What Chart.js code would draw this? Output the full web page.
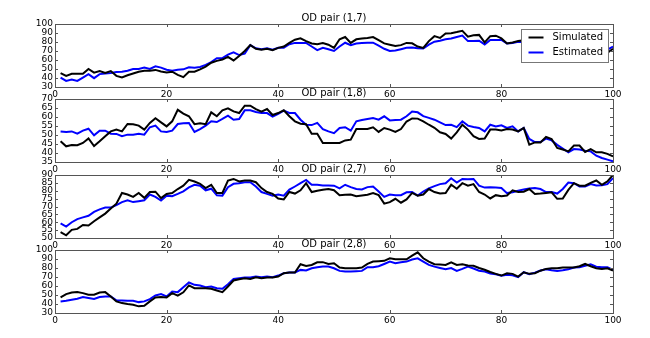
<!DOCTYPE html>
<html>
<head>
<meta charset="utf-8">
<script src="https://cdn.jsdelivr.net/npm/chart.js@4.4.1/dist/chart.umd.min.js"></script>
<style>
    html, body { margin: 0; padding: 0; background: #fff; }
    #wrap { position: relative; width: 650px; height: 338px; }
    #wrap canvas { position: absolute; left: 0; }
</style>
</head>
<body>
<div id="wrap">
    <canvas id="c17" width="650" height="91" style="top:10px"></canvas>
    <canvas id="c18" width="650" height="91" style="top:85px"></canvas>
    <canvas id="c27" width="650" height="91" style="top:161px"></canvas>
    <canvas id="c28" width="650" height="91" style="top:236px"></canvas>
</div>
<script>
// Time steps on the x axis
const steps = Array.from({ length: 100 }, (_, i) => i + 1);
const xTicks = [0, 20, 40, 60, 80, 100];

// OD pair (1,7)
const sim17 = [45.5, 42.4, 44.7, 44.7, 44.7, 50, 46, 47.7, 45.5, 47.7,
    42.4, 40.5, 43, 45, 47, 48, 48, 49, 47.3, 46,
    47, 43.5, 41, 47, 47, 49.6, 52.6, 57, 59, 60.5,
    63.5, 59.5, 64.5, 70, 76.5, 72.5, 71.5, 72.5, 71, 73.5,
    75, 79, 82.5, 84, 81, 78.4, 77.5, 78.8, 77, 73.5,
    83, 85.5, 79, 83, 84, 84.5, 85.5, 82, 78.5, 77,
    75.5, 76.5, 79, 78.5, 75, 73.5, 81, 86.5, 84.5, 89.5,
    89.8, 91, 92.4, 86, 87.5, 87.9, 79.5, 86.5, 87, 84,
    78.4, 79.5, 81, 82, 80, 79, 80, 81, 79, 78,
    77, 76, 75, 74, 74, 72, 70, 68, 68, 72.5];
const est17 = [40.5, 36.7, 38.3, 36.7, 40.5, 44.3, 39.8, 44.3, 45, 45.5,
    46.6, 47, 48, 50, 50, 51.5, 50, 53, 51.5, 49.2,
    48, 49.2, 49.6, 52, 51.5, 52.3, 54.5, 57.6, 62, 62,
    66, 68.5, 65.5, 67, 76.5, 73, 72, 73, 71.5, 73.5,
    73.5, 77.5, 79, 79, 79, 75, 71, 73.5, 72, 70,
    75, 79.2, 76.5, 78.4, 79, 79.2, 79.2, 76, 72.5, 70,
    70.5, 72, 73.5, 73.9, 73, 72.7, 77, 80.3, 81.5, 83,
    84, 85.5, 87.1, 81, 81.2, 81.4, 77.3, 82.3, 82.3, 82.3,
    78.4, 79, 80.3, 80, 79, 78, 78, 79, 78, 77,
    76, 75, 74, 73, 72, 71, 70, 69, 71.5, 75];

// OD pair (1,8)
const sim18 = [46.5, 43.7, 44.4, 44.3, 45.6, 48.1, 43.9, 46.5, 49.3, 52,
    53, 52, 56.1, 56, 55.2, 53, 56.7, 59.3, 57, 54.8,
    57.6, 64, 61.9, 60.4, 56, 56.5, 56, 62.6, 60.4, 63.7,
    64.8, 63.1, 62.2, 66.3, 66.3, 64.4, 63, 64.4, 61.1, 62.2,
    63.7, 60.4, 57.6, 56.3, 56, 50.7, 50.7, 45.6, 45.6, 45.6,
    45.6, 47, 47.4, 53.3, 53.3, 53.3, 54.3, 51.7, 53.9, 53,
    51.7, 53.3, 57.5, 59.2, 59.1, 57.6, 55.7, 54, 51.5, 50.6,
    48, 51.5, 55.7, 53, 49.3, 47.8, 48, 53, 53, 52.5,
    53.3, 53, 52, 53.9, 44.6, 45.9, 45.9, 48.9, 47.8, 42.8,
    41.9, 40.9, 44.1, 44.1, 40.6, 42.2, 40.4, 40.4, 39.5, 38.1];
const est18 = [52, 51.7, 52, 50.7, 52.4, 53.5, 49.8, 52.4, 52.4, 50.7,
    50.6, 49.3, 50.2, 50.2, 50.7, 50.2, 54.3, 55.2, 52, 51.7,
    52.4, 56.1, 56.5, 56.7, 51.7, 53.3, 55.2, 57.6, 57.2, 58.9,
    60.7, 58.5, 58.9, 63.7, 63.7, 62.8, 62.2, 62.2, 60.2, 61.7,
    63.5, 62.2, 62.2, 58.5, 55.7, 55.5, 56.7, 53.3, 52, 51,
    53.9, 54.3, 52.4, 57.6, 58.3, 58.9, 59.4, 58.5, 60.4, 58.1,
    58.3, 58.5, 60.4, 63, 62.6, 60.5, 59.5, 58.5, 57, 55.5,
    55.7, 54.4, 57.6, 55.2, 54.5, 53.9, 52, 55.7, 54.8, 55.4,
    53.9, 54.8, 52, 53.9, 47.8, 46.1, 46.1, 48, 47, 44.5,
    42.5, 40.4, 42.2, 42, 41.3, 40.9, 38.5, 37.2, 36.3, 35.4];

// OD pair (2,7)
const sim27 = [53.7, 51.7, 55.2, 55.8, 58.3, 57.9, 60.6, 63.1, 65.5, 68.7,
    71.8, 78.6, 77.6, 76.1, 78.6, 75.5, 79.2, 79.4, 75.3, 78,
    78.6, 81.1, 83.2, 86.9, 85.9, 84.4, 81.7, 83.8, 78.6, 78.6,
    86.5, 87.5, 85.9, 86.5, 86.5, 85.4, 81.7, 79.2, 78, 75.1,
    74.5, 79.2, 78.2, 80.3, 84.8, 79.2, 80, 80.7, 81.1, 80.3,
    77.2, 77.4, 77.6, 76.5, 77, 77.5, 78.6, 77.2, 71.8, 72.8,
    74.9, 72.4, 74.5, 78.6, 76.9, 77.6, 81.1, 79.2, 78.2, 78.6,
    83.8, 81.3, 84.8, 83.2, 84.2, 79.2, 77.6, 75.1, 77.2, 76.5,
    77, 80.3, 79.2, 79.4, 81.1, 78, 78.2, 78.6, 79, 74.9,
    75, 80.5, 84.8, 83.2, 83.2, 85, 86.5, 83.8, 85.9, 90];
const est27 = [59.3, 57.3, 60, 62, 63.1, 64.1, 66.6, 68.2, 69.3, 69.3,
    70.9, 72.8, 74, 72.8, 73.4, 74, 77.6, 76.1, 73.8, 76.9,
    76.5, 78, 79.6, 82.1, 83.8, 83.2, 80.3, 81.3, 77.1, 76.9,
    82.3, 84.4, 84.8, 85.4, 85.4, 82.7, 79.2, 78, 76.9, 77.6,
    76.9, 80.7, 82.7, 84.8, 86.9, 83.8, 83.8, 83.4, 83.4, 83.2,
    81.5, 83.8, 82.3, 81.1, 80.8, 82.3, 82.7, 79.5, 76.1, 77.6,
    77.2, 77.2, 79, 79.2, 76.9, 79.5, 81.5, 82.9, 84.2, 84.8,
    87.9, 85.2, 87.5, 87.3, 87.5, 83.2, 82, 82.2, 82, 81.8,
    78.5, 79, 80, 80.8, 81.5, 81.8, 81.1, 79.2, 79.2, 78.2,
    81.1, 85.2, 84.8, 82.7, 82.7, 84.2, 83.4, 83.5, 84.2, 88];

// OD pair (2,8)
const sim28 = [47.3, 51, 52.8, 53.2, 52.1, 50.3, 50.3, 52.8, 53.2, 48.4,
    42.9, 41, 39.9, 39.2, 37.4, 38.1, 42.9, 47.3, 47.7, 47.3,
    52.1, 49.2, 53, 60.6, 57.6, 57.6, 57.6, 56.9, 55, 53.2,
    59.5, 66.1, 67.6, 68.7, 67.9, 69.8, 68.7, 69.5, 69.5, 70.5,
    74.2, 75, 75, 84.2, 82.3, 83.4, 86.4, 86.5, 84.5, 85.3,
    80.5, 79.7, 79.7, 79.7, 80.5, 84.5, 87.1, 87.5, 88, 90.8,
    89.7, 89.7, 89.7, 93.7, 97.4, 90.8, 87.1, 84.2, 83.8, 83.4,
    86.4, 83.4, 84.2, 82.7, 82.5, 80, 78, 75.5, 73.5, 71.6,
    74.2, 73.5, 70.5, 75.3, 73.5, 74.2, 77, 79, 79.7, 79.7,
    80.5, 80.5, 80.5, 82, 84.5, 82, 79.7, 79, 79.7, 77.2];
const est28 = [42.9, 43.6, 44.7, 45.8, 47.7, 46.6, 45.5, 47.7, 48.4, 48.4,
    44, 44, 43.6, 43.6, 42.1, 42.9, 45.5, 49.5, 51, 48.4,
    53.9, 53.2, 58.7, 63.9, 61.3, 60.6, 58.7, 59.5, 57.6, 56.9,
    62, 67.9, 68.7, 69.4, 69.4, 70.5, 69.8, 70.5, 69.8, 71.6,
    74.2, 75, 75, 77.9, 77.2, 79.7, 80.8, 81.6, 81.6, 79.7,
    76.8, 76, 76, 76.4, 76.8, 80.8, 80.8, 82, 84.5, 87.1,
    85.3, 86.4, 87.1, 89.5, 90.8, 87.1, 83.5, 81.5, 80, 78.6,
    80, 76.8, 79, 81.5, 79.5, 77, 76, 74, 73, 71.5,
    72.4, 72, 69.8, 75.3, 73.1, 74.9, 77.2, 78.7, 77.5, 76.8,
    77.5, 78.5, 80.5, 80.8, 82.5, 84.2, 81.5, 80.8, 80.8, 77.9];

// Panel titles and y axis ranges [min, max, step]
const titles = ['OD pair (1,7)', 'OD pair (1,8)', 'OD pair (2,7)', 'OD pair (2,8)'];
const yRanges = [[30, 100, 10], [35, 70, 5], [50, 90, 5], [30, 100, 10]];
const seriesNames = ['Simulated', 'Estimated'];

Chart.defaults.font.family = 'DejaVu Sans';
Chart.defaults.color = '#000';

const FRAME = '#555';

// Box around the plot and small inward ticks, like matplotlib
const framePlugin = {
    id: 'frame',
    afterDatasetsDraw(chart) {
        const { ctx, chartArea: a, scales } = chart;
        ctx.save();
        ctx.strokeStyle = FRAME;
        ctx.lineWidth = 1;
        ctx.beginPath();
        scales.x.ticks.forEach(t => {
            const px = Math.round(scales.x.getPixelForValue(t.value)) + 0.5;
            ctx.moveTo(px, a.bottom); ctx.lineTo(px, a.bottom - 3);
            ctx.moveTo(px, a.top); ctx.lineTo(px, a.top + 3);
        });
        scales.y.ticks.forEach(t => {
            const py = Math.round(scales.y.getPixelForValue(t.value)) + 0.5;
            ctx.moveTo(a.left, py); ctx.lineTo(a.left + 3, py);
            ctx.moveTo(a.right, py); ctx.lineTo(a.right - 3, py);
        });
        ctx.stroke();
        ctx.strokeRect(Math.round(a.left) + 0.5, Math.round(a.top) + 0.5,
            Math.round(a.right - a.left), Math.round(a.bottom - a.top));
        ctx.restore();
    }
};

// Legend box inside the top right of the first panel
const boxLegend = {
    id: 'boxLegend',
    afterDraw(chart, args, opts) {
        if (!opts.show) return;
        const { ctx, chartArea: a } = chart;
        const w = 87, h = 33;
        const left = Math.round(a.right - 5 - w) + 0.5;
        const top = Math.round(a.top + 5) + 0.5;
        ctx.save();
        ctx.fillStyle = '#fff';
        ctx.fillRect(left, top, w, h);
        ctx.strokeStyle = '#777';
        ctx.lineWidth = 1;
        ctx.strokeRect(left, top, w, h);
        chart.data.datasets.forEach((ds, i) => {
            const y = top + 8 + i * 15;
            ctx.strokeStyle = ds.borderColor;
            ctx.lineWidth = 2;
            ctx.beginPath();
            ctx.moveTo(left + 7, y);
            ctx.lineTo(left + 22, y);
            ctx.stroke();
            ctx.fillStyle = '#000';
            ctx.font = '10px "DejaVu Sans"';
            ctx.textBaseline = 'middle';
            ctx.fillText(ds.label, left + 31, y);
        });
        ctx.restore();
    }
};

function makePanel(canvasId, idx, sim, est) {
    const [yMin, yMax, yStep] = yRanges[idx];
    const ctx = document.getElementById(canvasId).getContext('2d');
    return new Chart(ctx, {
        type: 'line',
        data: {
            datasets: [
                {
                    label: seriesNames[0],
                    data: steps.map((x, i) => ({ x, y: sim[i] })),
                    borderColor: '#000000',
                    borderWidth: 2
                },
                {
                    label: seriesNames[1],
                    data: steps.map((x, i) => ({ x, y: est[i] })),
                    borderColor: '#0000ff',
                    borderWidth: 2
                }
            ]
        },
        options: {
            responsive: false,
            animation: false,
            layout: { padding: { left: 0, right: 37, top: 0, bottom: 0 } },
            elements: { point: { radius: 0 }, line: { tension: 0 } },
            plugins: {
                legend: { display: false },
                tooltip: { enabled: false },
                title: {
                    display: true,
                    text: titles[idx],
                    fullSize: false,
                    color: '#000',
                    font: { size: 10, weight: 'normal' },
                    padding: { top: 2, bottom: 0 }
                },
                boxLegend: { show: idx === 0 }
            },
            scales: {
                x: {
                    type: 'linear',
                    min: 0,
                    max: 100,
                    afterBuildTicks: s => { s.ticks = xTicks.map(v => ({ value: v })); },
                    ticks: { padding: 2, autoSkip: false, maxRotation: 0, font: { size: 9 }, color: '#000' },
                    grid: { display: false, drawTicks: false },
                    border: { display: false },
                    afterFit: s => { s.height = 14; }
                },
                y: {
                    min: yMin,
                    max: yMax,
                    ticks: { stepSize: yStep, autoSkip: false, padding: 2, font: { size: 9 }, color: '#000' },
                    grid: { display: false, drawTicks: false },
                    border: { display: false },
                    afterFit: s => { s.width = 55; }
                }
            }
        },
        plugins: [framePlugin, boxLegend]
    });
}

makePanel('c17', 0, sim17, est17);
makePanel('c18', 1, sim18, est18);
makePanel('c27', 2, sim27, est27);
makePanel('c28', 3, sim28, est28);
</script>
</body>
</html>
